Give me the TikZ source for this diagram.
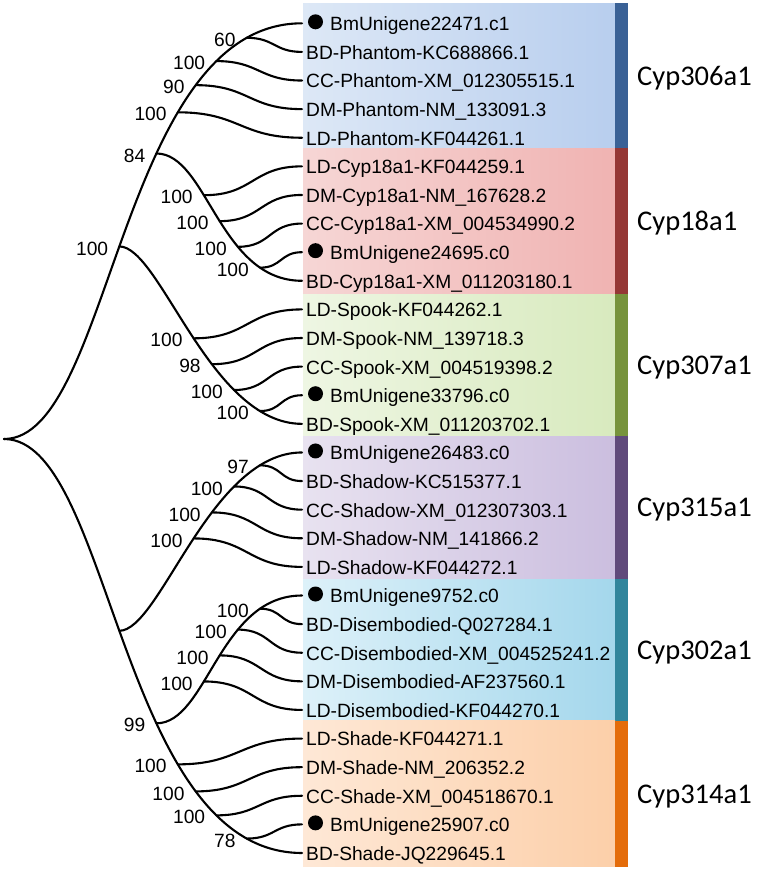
\documentclass[tikz,border=0pt]{standalone}
\usepackage{fontspec}
\setmainfont{Liberation Sans}
\newfontfamily\grpfont{Carlito}
\definecolor{blA}{HTML}{DDE8F6}\definecolor{blB}{HTML}{B8CEEE}\definecolor{blC}{HTML}{3A6196}
\definecolor{rdA}{HTML}{F6D6D5}\definecolor{rdB}{HTML}{F0B3B2}\definecolor{rdC}{HTML}{953735}
\definecolor{grA}{HTML}{EEF6E3}\definecolor{grB}{HTML}{D8EABE}\definecolor{grC}{HTML}{77933C}
\definecolor{puA}{HTML}{E8E2F0}\definecolor{puB}{HTML}{CBBEDF}\definecolor{puC}{HTML}{604A7B}
\definecolor{cyA}{HTML}{DDF1F9}\definecolor{cyB}{HTML}{A4D7EC}\definecolor{cyC}{HTML}{31859C}
\definecolor{orA}{HTML}{FEE8D6}\definecolor{orB}{HTML}{FCCFA9}\definecolor{orC}{HTML}{E46C0A}
\begin{document}
\begin{tikzpicture}[x=1pt,y=-1pt,
  br/.style={line width=2.1pt, line cap=round},
  lbl/.style={font=\fontsize{19.2}{22}\selectfont, anchor=east, inner sep=0pt},
  leaftxt/.style={font=\fontsize{19.2}{22}\selectfont, anchor=base west, inner sep=0pt},
  grp/.style={font=\grpfont\fontsize{28.5}{32}\selectfont, anchor=base west, inner sep=0pt},
  dotn/.style={circle, fill=black, minimum size=15pt, inner sep=0pt},
  lf/.style={out=0,in=180,looseness=1.25}]
\useasboundingbox (0,0) rectangle (757,871);
\fill[white] (0,0) rectangle (757,871);
% coloured blocks
\foreach \ya/\yb/\cA/\cB/\cC in {3.3/148.3/blA/blB/blC, 148.3/294/rdA/rdB/rdC, 294/436/grA/grB/grC,
   436/579/puA/puB/puC, 579/720.7/cyA/cyB/cyC, 720.7/866.7/orA/orB/orC}{
  \shade[left color=\cA, right color=\cB] (303,\ya) rectangle (615,\yb);
  \fill[\cC] (615,\ya) rectangle (628,\yb);
}
% group labels
\node[grp] (g1) at (637,85.1) {Cyp306a1};
\node[grp] (g2) at (637,230.5) {Cyp18a1};
\node[grp] (g3) at (637,374.3) {Cyp307a1};
\node[grp] (g4) at (637,516.8) {Cyp315a1};
\node[grp] (g5) at (637,659.2) {Cyp302a1};
\node[grp] (g6) at (637,803.0) {Cyp314a1};
% leaves
\foreach \i/\txt/\mk in {1/BmUnigene22471.c1/1, 2/BD-Phantom-KC688866.1/0, 3/CC-Phantom-XM\_012305515.1/0,
  4/DM-Phantom-NM\_133091.3/0, 5/LD-Phantom-KF044261.1/0, 6/LD-Cyp18a1-KF044259.1/0,
  7/DM-Cyp18a1-NM\_167628.2/0, 8/CC-Cyp18a1-XM\_004534990.2/0, 9/BmUnigene24695.c0/1,
  10/BD-Cyp18a1-XM\_011203180.1/0, 11/LD-Spook-KF044262.1/0, 12/DM-Spook-NM\_139718.3/0,
  13/CC-Spook-XM\_004519398.2/0, 14/BmUnigene33796.c0/1, 15/BD-Spook-XM\_011203702.1/0,
  16/BmUnigene26483.c0/1, 17/BD-Shadow-KC515377.1/0, 18/CC-Shadow-XM\_012307303.1/0,
  19/DM-Shadow-NM\_141866.2/0, 20/LD-Shadow-KF044272.1/0, 21/BmUnigene9752.c0/1,
  22/BD-Disembodied-Q027284.1/0, 23/CC-Disembodied-XM\_004525241.2/0, 24/DM-Disembodied-AF237560.1/0,
  25/LD-Disembodied-KF044270.1/0, 26/LD-Shade-KF044271.1/0, 27/DM-Shade-NM\_206352.2/0,
  28/CC-Shade-XM\_004518670.1/0, 29/BmUnigene25907.c0/1, 30/BD-Shade-JQ229645.1/0}{
  \coordinate (l\i) at (302,{23.3+28.61*(\i-1)});
  \ifnum\mk=1
    \node[dotn] (d\i) at (315.5,{23.3+28.61*(\i-1)-1.5}) {};
    \node[leaftxt] (t\i) at (330,{23.3+28.61*(\i-1)+7.4}) {\txt};
  \else
    \node[leaftxt] (t\i) at (306,{23.3+28.61*(\i-1)+7.4}) {\txt};
  \fi
}
\coordinate (root) at (4,439);
% main spines
\draw[br] (root) .. controls +(108,0) and +(-183,0) .. (l1)
  coordinate[pos=.4755] (U) coordinate[pos=.6273] (n84) coordinate[pos=.7015] (P1)
  coordinate[pos=.7567] (P2) coordinate[pos=.814] (P3) coordinate[pos=.888] (P4);
\draw[br] (root) .. controls +(108,0) and +(-183,0) .. (l30)
  coordinate[pos=.4755] (L) coordinate[pos=.6273] (n99) coordinate[pos=.7015] (E1)
  coordinate[pos=.7567] (E2) coordinate[pos=.814] (E3) coordinate[pos=.888] (E4);
% clade spines
\draw[br] (n84) .. controls +(51,0) and +(-83,0) .. (l10)
  coordinate[pos=.383] (C1) coordinate[pos=.521] (C2) coordinate[pos=.661] (C3) coordinate[pos=.801] (C4);
\draw[br] (n99) .. controls +(51,0) and +(-83,0) .. (l21)
  coordinate[pos=.383] (D1) coordinate[pos=.521] (D2) coordinate[pos=.661] (D3) coordinate[pos=.801] (D4);
\draw[br] (U) .. controls +(41,0) and +(-92,0) .. (l15)
  coordinate[pos=.512] (S1) coordinate[pos=.611] (S2) coordinate[pos=.7205] (S3) coordinate[pos=.8357] (S4);
\draw[br] (L) .. controls +(41,0) and +(-92,0) .. (l16)
  coordinate[pos=.512] (H1) coordinate[pos=.611] (H2) coordinate[pos=.7205] (H3) coordinate[pos=.8357] (H4);
% leaf edges
\foreach \a/\b in {P4/l2, P3/l3, P2/l4, P1/l5, C1/l6, C2/l7, C3/l8, C4/l9,
  S1/l11, S2/l12, S3/l13, S4/l14, H4/l17, H3/l18, H2/l19, H1/l20,
  D4/l22, D3/l23, D2/l24, D1/l25, E1/l26, E2/l27, E3/l28, E4/l29}{
  \draw[br] (\a) to[lf] (\b);
}
% support values
\foreach \nd/\v in {U/100, n84/84, P1/100, P2/90, P3/100, P4/60, C1/100, C2/100, C3/100, C4/100,
  S1/100, S2/98, S3/100, S4/100, H1/100, H2/100, H3/100, H4/97, n99/99,
  E1/100, E2/100, E3/100, E4/78, D1/100, D2/100, D3/100, D4/100}{
  \node[lbl] (b\nd) at ([shift={(-11,2)}]\nd) {\v};
}
\end{tikzpicture}
\end{document}
